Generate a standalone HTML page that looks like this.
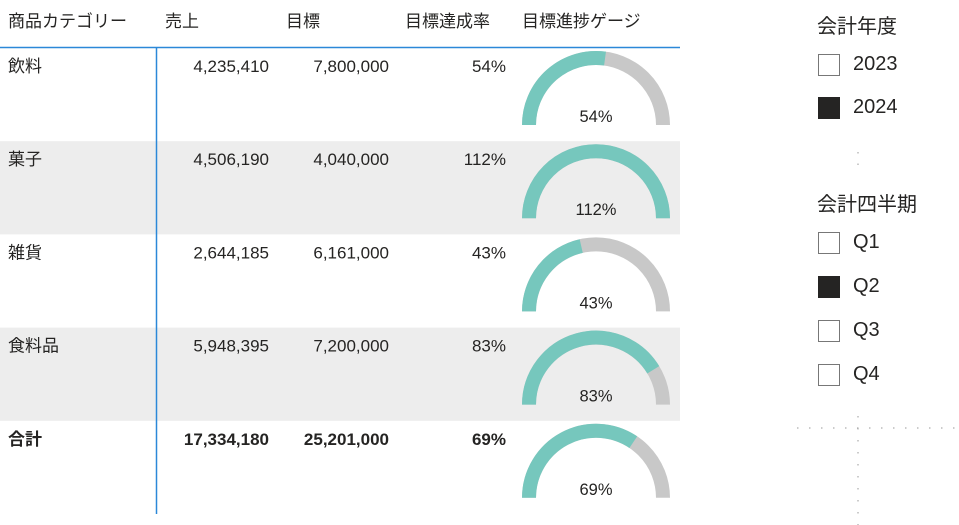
<!DOCTYPE html>
<html><head><meta charset="utf-8"><style>
body{margin:0;width:959px;height:525px;background:#fff;overflow:hidden;font-family:"Liberation Sans","Noto Sans CJK JP",sans-serif;color:#252423;position:relative}
.a{position:absolute;white-space:nowrap;font-size:17px}
.cb{position:absolute;width:22px;height:22px;border:1px solid #777;box-sizing:border-box}
.cb.on{background:#252423;border-color:#252423}
</style></head><body>
<svg id="tbl" width="700" height="525" style="position:absolute;left:0;top:0"></svg>
<div class="a" style="left:817px;top:10px;font-size:20px">会計年度</div>
<div class="cb" style="left:818px;top:54px"></div>
<div class="a" style="left:853px;top:53px;font-size:20px">2023</div>
<div class="cb on" style="left:818px;top:97px"></div>
<div class="a" style="left:853px;top:96px;font-size:20px">2024</div>
<div class="a" style="left:817px;top:188px;font-size:20px">会計四半期</div>
<div class="cb" style="left:818px;top:232px"></div>
<div class="a" style="left:853px;top:231px;font-size:20px">Q1</div>
<div class="cb on" style="left:818px;top:276px"></div>
<div class="a" style="left:853px;top:275px;font-size:20px">Q2</div>
<div class="cb" style="left:818px;top:320px"></div>
<div class="a" style="left:853px;top:319px;font-size:20px">Q3</div>
<div class="cb" style="left:818px;top:364px"></div>
<div class="a" style="left:853px;top:363px;font-size:20px">Q4</div>
<svg width="959" height="525" style="position:absolute;left:0;top:0;pointer-events:none">
<line x1="858" y1="152" x2="858" y2="166" stroke="#999" stroke-dasharray="1.5 10"/>
<line x1="797" y1="428" x2="959" y2="428" stroke="#999" stroke-dasharray="1.5 10.5"/>
<line x1="858" y1="416" x2="858" y2="525" stroke="#999" stroke-dasharray="1.5 10.5"/>
</svg>
<script>
const categories=["飲料","菓子","雑貨","食料品"];
const sales=[4235410,4506190,2644185,5948395];
const targets=[7800000,4040000,6161000,7200000];
const NS="http://www.w3.org/2000/svg";
const svg=document.getElementById('tbl');
function el(t,a,txt){const e=document.createElementNS(NS,t);for(const k in a)e.setAttribute(k,a[k]);if(txt!=null)e.textContent=txt;svg.appendChild(e);return e;}
const fmt=n=>n.toLocaleString('en-US');
const rowY=i=>48+i*93.2;
const headers=[["商品カテゴリー",8,"start"],["売上",165,"start"],["目標",286,"start"],["目標達成率",405,"start"],["目標進捗ゲージ",522,"start"]];
headers.forEach(h=>{const t=el('text',{x:h[1],y:27,'font-size':17,'text-anchor':h[2],fill:'#252423'},h[0]);

});
function gauge(cx,by,p,bold){
  const R=67,w=14;const f=Math.min(p,1);
  const arc=(a0,a1,c)=>{const x0=cx-R*Math.cos(a0*Math.PI),y0=by-R*Math.sin(a0*Math.PI),x1=cx-R*Math.cos(a1*Math.PI),y1=by-R*Math.sin(a1*Math.PI);
    return el('path',{d:`M${x0},${y0} A${R},${R} 0 0 1 ${x1},${y1}`,fill:'none',stroke:c,'stroke-width':w});};
  const g1=arc(0,1,'#c8c8c8');
  const g2=arc(0,f,'#76c7bd');
  const t=el('text',{x:cx,y:by-3,'font-size':16.5,'text-anchor':'middle',fill:'#252423'},Math.round(p*100)+'%');
  
}
function row(i,name,s,tg,bold){
  const y=rowY(i);
  if(i%2==1){const b=el('rect',{x:0,y:y,width:680,height:93.2,fill:'#ededed'});}
  const p=s/tg;const fw=bold?'bold':'normal';
  const vals=[[name,8,'start'],[fmt(s),269,'end'],[fmt(tg),389,'end'],[Math.round(p*100)+'%',506,'end']];
  vals.forEach(v=>{const t=el('text',{x:v[1],y:y+24,'font-size':17,'font-weight':fw,'text-anchor':v[2],fill:'#252423'},v[0]);
    });
  gauge(596,y+77,p,bold);
}
categories.forEach((c,i)=>row(i,c,sales[i],targets[i],false));
const ts=sales.reduce((a,b)=>a+b,0),tt=targets.reduce((a,b)=>a+b,0);
row(4,"合計",ts,tt,true);
const l1=el('line',{x1:0,y1:47.5,x2:680,y2:47.5,stroke:'#2b88d8','stroke-width':1.5});

const l2=el('line',{x1:156.5,y1:48,x2:156.5,y2:514,stroke:'#2b88d8','stroke-width':1.5});

</script>
</body></html>
